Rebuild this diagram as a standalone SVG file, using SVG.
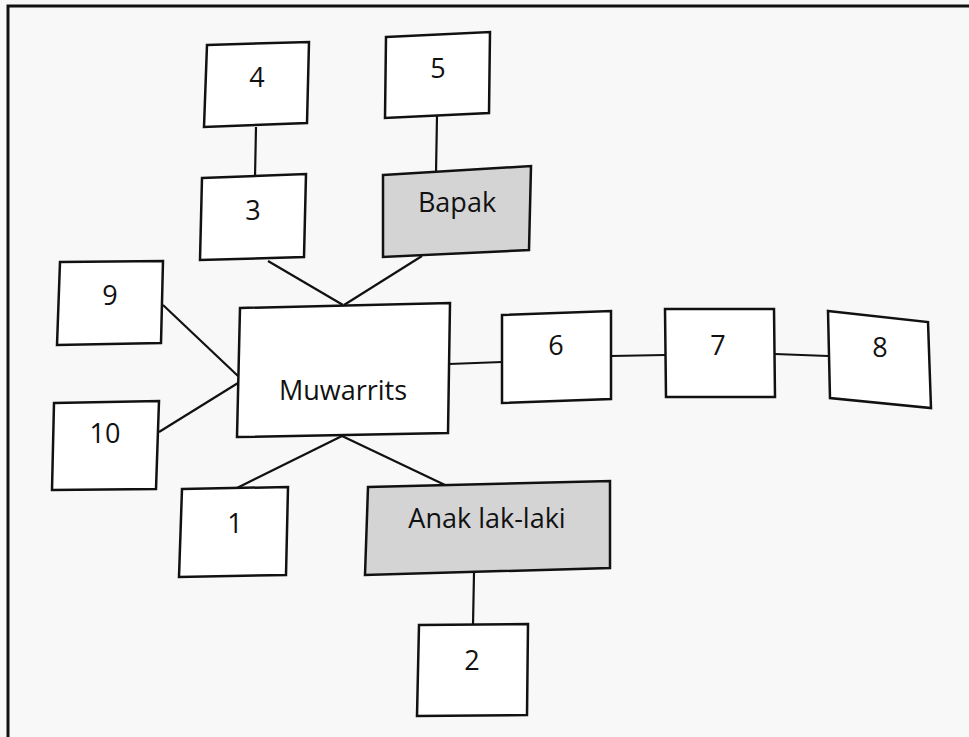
<svg xmlns="http://www.w3.org/2000/svg" width="969" height="737" viewBox="0 0 969 737">
<style>
.bx{fill:#ffffff;stroke:#111;stroke-width:2.5;stroke-linejoin:miter}
.gr{fill:#d4d4d4;stroke:#111;stroke-width:2.5}
.ln{stroke:#111;stroke-width:2.2;fill:none}
text{font-family:"Open Sans","Noto Sans","DejaVu Sans",sans-serif;font-size:27px;fill:#111;text-anchor:middle}
</style>
<rect x="0" y="0" width="969" height="737" fill="#f8f8f8"/>
<g id="frame">
<path d="M8,737 L8,6 L969,6" fill="none" stroke="#111" stroke-width="3"/>
</g>
<g id="connectors">
<line class="ln" x1="256" y1="127" x2="255" y2="177"/>
<line class="ln" x1="437" y1="116" x2="436" y2="173"/>
<line class="ln" x1="268" y1="261" x2="343" y2="305"/>
<line class="ln" x1="422" y1="256" x2="344" y2="305"/>
<line class="ln" x1="163" y1="305" x2="238" y2="376"/>
<line class="ln" x1="159" y1="432" x2="238" y2="383"/>
<line class="ln" x1="449" y1="364" x2="502" y2="362"/>
<line class="ln" x1="611" y1="356" x2="665" y2="355"/>
<line class="ln" x1="775" y1="354" x2="828" y2="356"/>
<line class="ln" x1="342" y1="436" x2="237" y2="488"/>
<line class="ln" x1="342" y1="436" x2="445" y2="485"/>
<line class="ln" x1="474" y1="573" x2="473" y2="625"/>
</g>
<g id="n4"><polygon class="bx" points="207,45 309,42 307,123 204,127"/><text x="257" y="87">4</text></g>
<g id="n5"><polygon class="bx" points="386,37 490,32 489,113 385,118"/><text x="438" y="78">5</text></g>
<g id="n3"><polygon class="bx" points="202,178 306,174 304,257 200,260"/><text x="253" y="220">3</text></g>
<g id="bapak"><polygon class="gr" points="383,175 531,166 529,250 383,257"/><text x="457" y="212">Bapak</text></g>
<g id="n9"><polygon class="bx" points="60,262 163,261 161,343 57,345"/><text x="110" y="305">9</text></g>
<g id="n10"><polygon class="bx" points="54,403 159,401 156,489 52,490"/><text x="105" y="443">10</text></g>
<g id="muwarrits"><polygon class="bx" points="240,308 450,303 448,433 237,437"/><text x="343" y="400">Muwarrits</text></g>
<g id="n6"><polygon class="bx" points="502,315 611,311 611,399 502,403"/><text x="556" y="355">6</text></g>
<g id="n7"><polygon class="bx" points="665,309 774,309 775,397 666,397"/><text x="718" y="355">7</text></g>
<g id="n8"><polygon class="bx" points="828,311 928,322 931,408 830,398"/><text x="880" y="357">8</text></g>
<g id="n1"><polygon class="bx" points="182,489 288,487 286,575 179,577"/><text x="235" y="533">1</text></g>
<g id="anak"><polygon class="gr" points="368,487 610,481 610,568 365,575"/><text x="487" y="528">Anak lak-laki</text></g>
<g id="n2"><polygon class="bx" points="419,625 528,624 527,715 417,716"/><text x="472" y="670">2</text></g>
</svg>
